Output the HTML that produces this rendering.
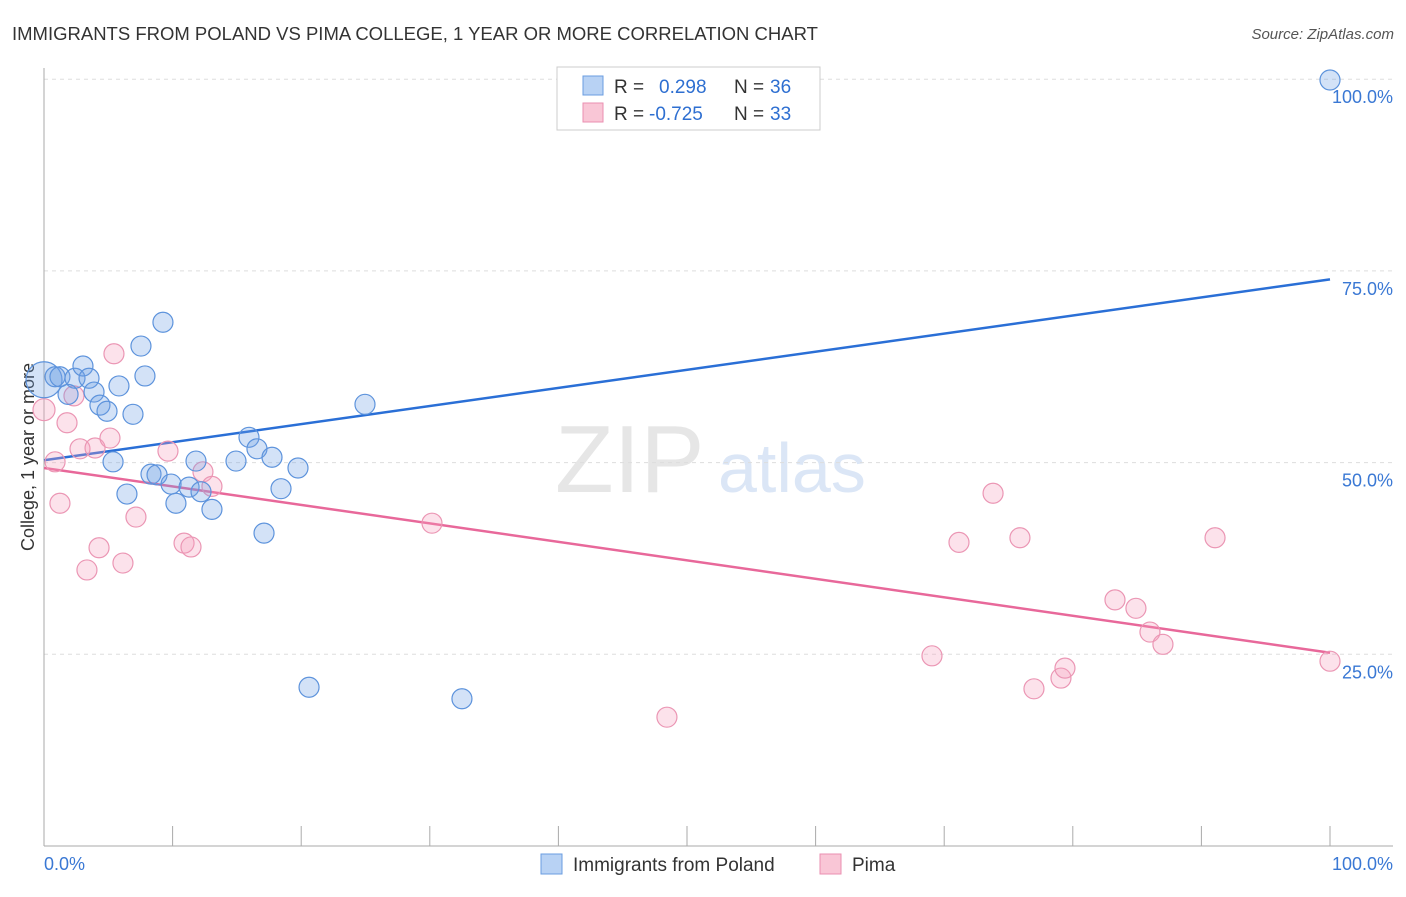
<!DOCTYPE html>
<html><head><meta charset="utf-8"><style>
body{margin:0;background:#fff;font-family:"Liberation Sans",sans-serif;}
svg text{font-family:"Liberation Sans",sans-serif;}
</style></head><body>
<svg id="chart" width="1406" height="892" xmlns="http://www.w3.org/2000/svg">
<text x="12" y="40" font-size="18.5" fill="#333">IMMIGRANTS FROM POLAND VS PIMA COLLEGE, 1 YEAR OR MORE CORRELATION CHART</text>
<text x="1394" y="39" font-size="15" fill="#555" text-anchor="end" font-style="italic">Source: ZipAtlas.com</text>
<text x="0" y="0" transform="translate(34,457) rotate(-90)" font-size="18" fill="#333" text-anchor="middle">College, 1 year or more</text>
<text x="555" y="492" font-size="96" fill="#e6e6e6" font-family="Liberation Serif">ZIP</text>
<text x="718" y="492" font-size="70" fill="#dbe6f6">atlas</text>
<g id="grid"></g><g id="axes"></g><g id="trends"></g><g id="points"></g>
<g>
<rect x="557" y="67" width="263" height="63" fill="#fff" stroke="#ccc"/>
<rect x="583" y="76" width="20" height="19" fill="#b8d2f4" stroke="#6a9ce0"/>
<rect x="583" y="103" width="20" height="19" fill="#f9c6d6" stroke="#ea8fb0"/>
<text x="614" y="93" font-size="19" fill="#333">R =</text>
<text x="659" y="93" font-size="19" fill="#2e6fd1">0.298</text>
<text x="734" y="93" font-size="19" fill="#333">N =</text>
<text x="770" y="93" font-size="19" fill="#2e6fd1">36</text>
<text x="614" y="120" font-size="19" fill="#333">R =</text>
<text x="649" y="120" font-size="19" fill="#2e6fd1">-0.725</text>
<text x="734" y="120" font-size="19" fill="#333">N =</text>
<text x="770" y="120" font-size="19" fill="#2e6fd1">33</text>
</g>
<g>
<rect x="541" y="854" width="21" height="20" fill="#b8d2f4" stroke="#6a9ce0"/>
<text x="573" y="871" font-size="19" fill="#333">Immigrants from Poland</text>
<rect x="820" y="854" width="21" height="20" fill="#f9c6d6" stroke="#ea8fb0"/>
<text x="852" y="871" font-size="19" fill="#333">Pima</text>
</g>
</svg>
<script>
const blueX=[0,0.86,1.24,2.41,3.03,3.5,1.87,3.89,4.35,4.9,5.83,6.92,5.37,6.45,7.54,7.85,9.25,8.32,8.79,9.88,10.26,11.28,11.82,12.21,13.06,14.93,15.94,16.56,17.11,17.73,18.43,19.75,20.61,24.96,32.5,100];
const blueY=[60.8,61.2,61.2,61.0,62.6,61.0,58.9,59.2,57.5,56.7,60.0,56.3,50.1,45.9,65.2,61.3,68.3,48.5,48.4,47.2,44.7,46.8,50.2,46.2,43.9,50.2,53.3,51.8,40.8,50.7,46.6,49.3,20.7,57.6,19.2,99.9];
const pinkX=[0,0.86,1.24,1.79,2.33,2.8,3.34,3.97,4.28,5.13,5.44,6.14,7.15,9.64,10.89,11.43,12.36,13.06,30.17,48.44,69.05,71.15,73.8,75.89,76.98,79.08,79.39,83.28,84.91,86.0,87.01,91.06,100];
const pinkY=[56.9,50.1,44.7,55.2,58.7,51.8,36.0,51.9,38.9,53.2,64.2,36.9,42.9,51.5,39.5,39.0,48.8,46.9,42.1,16.8,24.8,39.6,46.0,40.2,20.5,21.9,23.2,32.1,31.0,27.9,26.3,40.2,24.1];
const blueTrend=[50.3,73.9];
const pinkTrend=[49.3,25.2];
const yTicks=[100,75,50,25];
const yTickLabels=["100.0%","75.0%","50.0%","25.0%"];
const NS="http://www.w3.org/2000/svg";
const X=v=>44+v*12.86, Y=v=>846-v*7.668;
function mk(tag,attrs,parent){const e=document.createElementNS(NS,tag);for(const k in attrs)e.setAttribute(k,attrs[k]);document.getElementById(parent).appendChild(e);return e;}
yTicks.forEach((t,i)=>{
 const l=mk('line',{x1:44,x2:1393,y1:Y(t),y2:Y(t),stroke:'#ddd','stroke-dasharray':'4,4'},'grid');
 
 
 const tx=mk('text',{x:1393,y:Y(t)+24,'font-size':18,fill:'#3a78d4','text-anchor':'end'},'grid');
 tx.textContent=yTickLabels[i];
 
 
});
let a=mk('line',{x1:44,x2:44,y1:68,y2:846,stroke:'#aaa'},'axes');


a=mk('line',{x1:44,x2:1393,y1:846,y2:846,stroke:'#aaa'},'axes');


for(let i=0;i<=10;i++){const t=mk('line',{x1:X(i*10),x2:X(i*10),y1:826,y2:846,stroke:'#aaa'},'axes');
 
 }
let t1=mk('text',{x:44,y:870,'font-size':18,fill:'#3a78d4'},'axes');t1.textContent='0.0%';


t1=mk('text',{x:1393,y:870,'font-size':18,fill:'#3a78d4','text-anchor':'end'},'axes');t1.textContent='100.0%';


let tl=mk('line',{x1:X(0),y1:Y(blueTrend[0]),x2:X(100),y2:Y(blueTrend[1]),stroke:'#2a6fd6','stroke-width':2.5},'trends');


tl=mk('line',{x1:X(0),y1:Y(pinkTrend[0]),x2:X(100),y2:Y(pinkTrend[1]),stroke:'#e8689a','stroke-width':2.5},'trends');


pinkX.forEach((x,i)=>{const c=mk('circle',{cx:X(x),cy:Y(pinkY[i]),r:i==0?11:10,fill:'rgba(244,160,190,0.3)',stroke:'#eb96b4','stroke-width':1.2},'points');
 
 });
blueX.forEach((x,i)=>{const c=mk('circle',{cx:X(x),cy:Y(blueY[i]),r:i==0?18:10,fill:'rgba(110,160,230,0.3)',stroke:'#5d93dc','stroke-width':1.2},'points');
 
 });
</script>
</body></html>
